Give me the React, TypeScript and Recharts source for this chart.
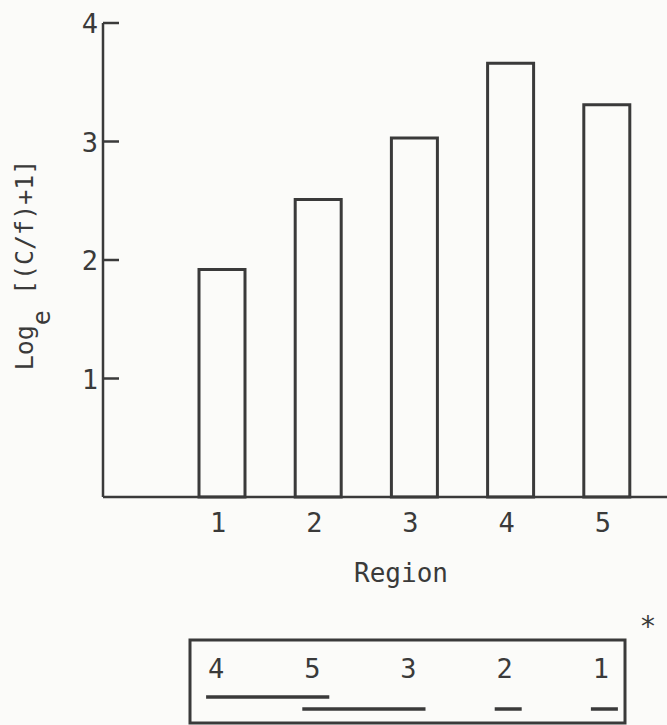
import { Bar, BarChart, XAxis, YAxis } from 'recharts'

// mean log-transformed catch per region
const regions = ['1', '2', '3', '4', '5']
const logCatch = [1.92, 2.51, 3.03, 3.66, 3.31]
const yTicks = [1, 2, 3, 4]

// regions ranked high to low, with the non-significant groupings drawn under them
const rankedRegions = ['4', '5', '3', '2', '1']
const groupFrom = [0, 1, 3, 4]
const groupTo = [1, 2, 3, 4]
const groupRow = [0, 1, 1, 1]

const data = regions.map((name, i) => ({ name, value: logCatch[i] }))

const W = 667
const H = 725
const INK = '#3a3a3a'
const PAPER = '#fbfbf9'
const FONT = '"DejaVu Sans Mono", monospace'

const AXIS_X = 103
const PAD_LEFT = 71
const PAD_RIGHT = 12
const BAND = (W - PAD_RIGHT - AXIS_X - PAD_LEFT) / regions.length
const slotCenter = (i: number) => AXIS_X + PAD_LEFT + BAND * (i + 0.5)

function YTick(props: any) {
	const { x, y, payload } = props
	return (
		<g>
			<line x1={x} y1={y} x2={x + 16} y2={y} stroke={INK} strokeWidth={2.5} />
			<text x={x - 5} y={y + 10} textAnchor="end" fill={INK} fontSize={27} fontFamily={FONT}>
				{payload.value}
			</text>
		</g>
	)
}

function XTick(props: any) {
	const { x, y, payload } = props
	return (
		<text x={x - 4} y={y + 35} textAnchor="middle" fill={INK} fontSize={27} fontFamily={FONT}>
			{payload.value}
		</text>
	)
}

function YLabel() {
	const cx = 33
	const cy = 265
	return (
		<text
			x={cx}
			y={cy}
			transform={`rotate(-90, ${cx}, ${cy})`}
			textAnchor="middle"
			fill={INK}
			fontSize={25}
			fontFamily={FONT}
		>
			Log
			<tspan dy={17}>e</tspan>
			<tspan dy={-17}> [(C/f)+1]</tspan>
		</text>
	)
}

function XLabel() {
	return (
		<text x={401} y={582} textAnchor="middle" fill={INK} fontSize={26} fontFamily={FONT}>
			Region
		</text>
	)
}

function RankBox() {
	const rowY = [697, 709]
	const numX = (i: number) => slotCenter(i) - 6
	return (
		<svg width={W} height={H} style={{ position: 'absolute', left: 0, top: 0, pointerEvents: 'none' }}>
			<text x={648} y={636} textAnchor="middle" fill={INK} fontSize={28} fontFamily={FONT}>
				*
			</text>
			<rect x={190} y={640} width={435} height={83} fill="none" stroke={INK} strokeWidth={3} />
			{rankedRegions.map((r, i) => (
				<text key={r} x={numX(i)} y={678} textAnchor="middle" fill={INK} fontSize={27} fontFamily={FONT}>
					{r}
				</text>
			))}
			{groupFrom.map((from, k) => (
				<line
					key={k}
					x1={numX(from) - 10}
					x2={numX(groupTo[k]) + 17}
					y1={rowY[groupRow[k]]}
					y2={rowY[groupRow[k]]}
					stroke={INK}
					strokeWidth={3.5}
				/>
			))}
		</svg>
	)
}

export default function App() {
	return (
		<div style={{ position: 'absolute', left: 0, top: 0, width: W, height: H, background: PAPER }}>
			<BarChart
				width={W}
				height={H}
				data={data}
				margin={{ top: 23, right: 0, bottom: 0, left: 0 }}
				barSize={46}
			>
				<XAxis
					dataKey="name"
					height={228}
					padding={{ left: PAD_LEFT, right: PAD_RIGHT }}
					axisLine={{ stroke: INK, strokeWidth: 2.5 }}
					tickLine={false}
					tickSize={0}
					tickMargin={0}
					tick={<XTick />}
					interval={0}
					label={<XLabel />}
				/>
				<YAxis
					width={AXIS_X}
					domain={[0, 4]}
					ticks={yTicks}
					axisLine={{ stroke: INK, strokeWidth: 2.5 }}
					tickLine={false}
					tickSize={0}
					tickMargin={0}
					tick={<YTick />}
					label={<YLabel />}
				/>
				<Bar dataKey="value" fill="none" stroke={INK} strokeWidth={3} isAnimationActive={false} />
			</BarChart>
			<RankBox />
		</div>
	)
}
